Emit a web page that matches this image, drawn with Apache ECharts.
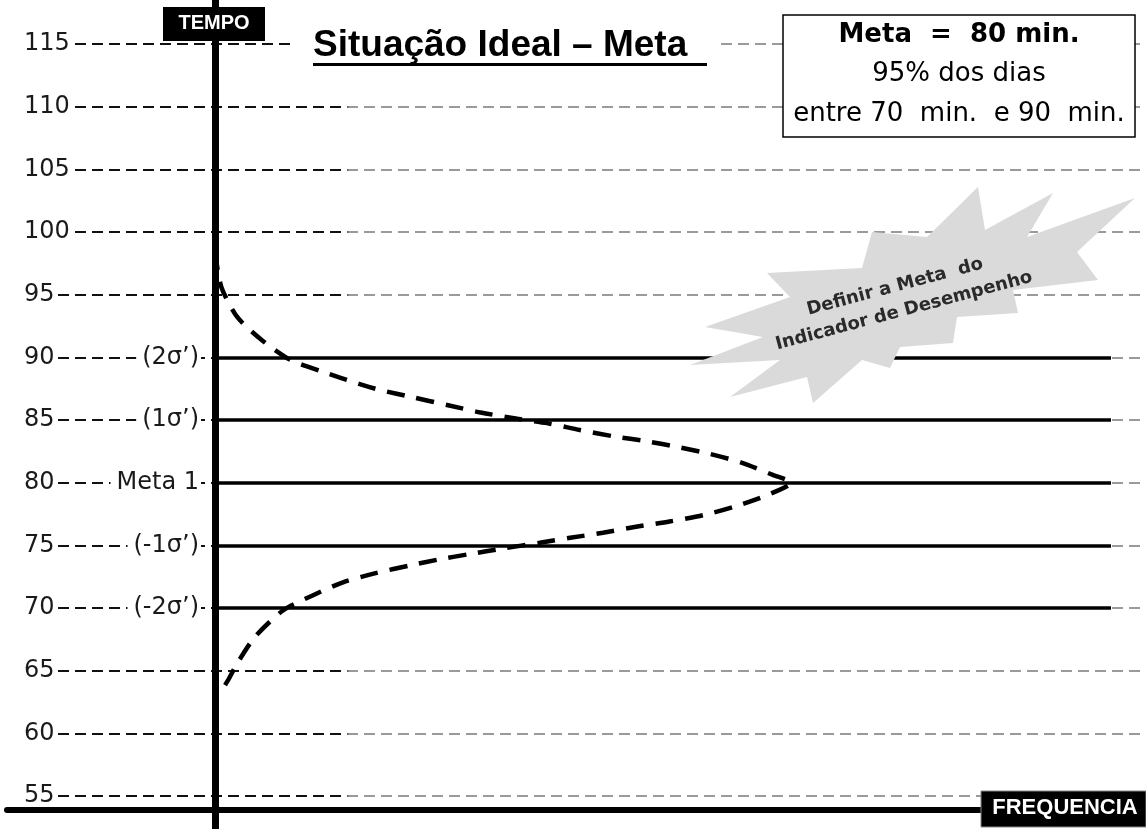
<!DOCTYPE html>
<html><head><meta charset="utf-8">
<script src="https://cdn.jsdelivr.net/npm/echarts@6/dist/echarts.min.js"></script>
<style>html,body{margin:0;padding:0;background:#fff}#c{width:1146px;height:829px}</style>
</head><body><div id="c"></div>
<script>
// ---- data ----
const tempoTicks = [55, 60, 65, 70, 75, 80, 85, 90, 95, 100, 105, 110, 115];
const sigmaLevels = [90, 85, 80, 75, 70];
const sigmaLabels = ["(2σ’)", "(1σ’)", "Meta 1", "(-1σ’)", "(-2σ’)"];
const levelLineEnd = 56;          // frequency where the sigma lines stop
const axisZero = 0;               // frequency origin (vertical TEMPO axis)
// bell curve (frequency, tempo)
const curveFreq  = [0, 0.4, 1.4, 2.9, 4.7, 6.6, 9.1, 10.3, 12.4, 14.5, 16.6, 18.9, 20.75, 22.8, 24.9, 27.0, 28.9, 30.9, 32.9, 34.9, 36,
                    34.5, 32.5, 30.5, 28.4, 26.4, 24.25, 22.2, 20.3, 18.0, 15.9, 13.9, 12.2, 10.1, 8.0, 6.1, 4.25, 2.5, 1.4, 0.8, 0.3];
const curveTempo = [98.4, 95.6, 93.2, 91.4, 89.8, 88.9, 87.85, 87.4, 86.8, 86.2, 85.6, 85.1, 84.75, 84.2, 83.7, 83.3, 82.85, 82.3, 81.6, 80.6, 80.0,
                    79.0, 78.1, 77.4, 76.9, 76.5, 76.0, 75.6, 75.2, 74.75, 74.3, 73.85, 73.4, 72.8, 72.05, 71.0, 69.8, 67.7, 65.6, 64.2, 63.2];
const titleText = "Situação Ideal – Meta";
const boxLines = ["Meta  =  80 min.", "95% dos dias", "entre 70  min.  e 90  min."];
const burstLines = ["Definir a Meta  do", "Indicador de Desempenho"];
const yName = "TEMPO";
const xName = "FREQUENCIA";

// ---- chart ----
const chart = echarts.init(document.getElementById('c'), null, {renderer: 'canvas'});
const gridGrad = new echarts.graphic.LinearGradient(0, 0, 1146, 0, [
  {offset: 0, color: '#111'}, {offset: 0.30, color: '#111'},
  {offset: 0.305, color: '#9a9a9a'}, {offset: 1, color: '#9a9a9a'}], true);

const levelMarks = sigmaLevels.map((v, i) => [
  {coord: [axisZero, v], name: sigmaLabels[i]},
  {coord: [levelLineEnd, v]}
]);

const burstPts = [[705,327],[790,297],[767,273],[862,268],[872,232],[927,237],[978,187],[985,230],
  [1053,193],[1027,237],[1135,198],[1077,252],[1098,280],[1013,290],[1018,313],[957,317],[953,343],
  [900,347],[890,368],[862,360],[813,403],[807,377],[730,397],[780,360],[690,365],[763,337]];

const option = {
  animation: false,
  backgroundColor: '#fff',
  grid: {left: 7, right: 0, top: -18.67, bottom: -29.67, containLabel: false, outerBoundsMode: 'none'},
  xAxis: {
    type: 'value', min: -13, max: 58.1875, position: 'bottom', offset: -48.67, z: 5,
    axisLine: {show: true, onZero: false, lineStyle: {color: '#000', width: 6}},
    axisTick: {show: false}, axisLabel: {show: false}, splitLine: {show: false}
  },
  yAxis: {
    type: 'value', min: 50, max: 120, interval: 5,
    axisLine: {show: false, onZero: false}, axisTick: {show: false},
    axisLabel: {
      inside: true, margin: 0,
      formatter: v => tempoTicks.includes(v) ? String(v) : '',
      fontFamily: 'DejaVu Sans', fontSize: 24, color: '#1a1a1a', lineHeight: 20,
      backgroundColor: '#fff', padding: [0, 3, 0, 17]
    },
    splitLine: {show: true, lineStyle: {color: gridGrad, width: 2, type: [11, 6]}}
  },
  series: [{
    type: 'line',
    data: curveFreq.map((f, i) => [f, curveTempo[i]]),
    smooth: 0.25, showSymbol: false, z: 3,
    lineStyle: {color: '#000', width: 4.5, type: [18, 12]},
    markLine: {
      silent: true, symbol: ['none', 'none'], animation: false,
      lineStyle: {color: '#000', width: 3.5, type: 'solid'},
      label: {
        show: true, position: 'start', formatter: '{b}', distance: 14,
        fontFamily: 'DejaVu Sans', fontSize: 24, color: '#1a1a1a', lineHeight: 22,
        backgroundColor: '#fff', padding: [0, 2, 0, 6]
      },
      data: levelMarks.concat([{xAxis: axisZero, label: {show: false}, lineStyle: {width: 7, color: '#000', type: 'solid'}}])
    }
  }],
  graphic: [
    // title
    {type: 'rect', z: 100, shape: {x: 290, y: 28, width: 428, height: 34}, style: {fill: '#fff'}},
    {type: 'text', z: 101, x: 313, y: 46, style: {text: titleText, font: 'bold 37px "Liberation Sans"', fill: '#000', align: 'left', verticalAlign: 'middle'}},
    {type: 'line', z: 101, shape: {x1: 313, y1: 64.5, x2: 707, y2: 64.5}, style: {stroke: '#000', lineWidth: 3}},
    // TEMPO label
    {type: 'rect', z: 100, shape: {x: 163, y: 7, width: 102, height: 34}, style: {fill: '#000'}},
    {type: 'text', z: 101, x: 214, y: 23, style: {text: yName, font: 'bold 20px "Liberation Sans"', fill: '#fff', align: 'center', verticalAlign: 'middle'}},
    // FREQUENCIA label
    {type: 'rect', z: 100, shape: {x: 981, y: 791, width: 165, height: 36}, style: {fill: '#000', stroke: '#888', lineWidth: 1}},
    {type: 'text', z: 101, x: 1065, y: 808, style: {text: xName, font: 'bold 22px "Liberation Sans"', fill: '#fff', align: 'center', verticalAlign: 'middle'}},
    // goal box
    {type: 'rect', z: 100, shape: {x: 783, y: 15, width: 352, height: 122}, style: {fill: '#fff', stroke: '#000', lineWidth: 1.5}},
    {type: 'text', z: 101, x: 959, y: 35, style: {text: boxLines[0], font: 'bold 26px "DejaVu Sans"', fill: '#000', align: 'center', verticalAlign: 'middle'}},
    {type: 'text', z: 101, x: 959, y: 74, style: {text: boxLines[1], font: '26px "DejaVu Sans"', fill: '#000', align: 'center', verticalAlign: 'middle'}},
    {type: 'text', z: 101, x: 959, y: 114, style: {text: boxLines[2], font: '26px "DejaVu Sans"', fill: '#000', align: 'center', verticalAlign: 'middle'}},
    // starburst
    {type: 'polygon', z: 100, shape: {points: burstPts}, style: {fill: '#dadada'}},
    {type: 'text', z: 101, x: 895, y: 287, rotation: 0.26, style: {text: burstLines[0], font: 'bold 18px "DejaVu Sans"', fill: '#2a2a2a', align: 'center', verticalAlign: 'middle'}},
    {type: 'text', z: 101, x: 904, y: 311, rotation: 0.26, style: {text: burstLines[1], font: 'bold 18px "DejaVu Sans"', fill: '#2a2a2a', align: 'center', verticalAlign: 'middle'}}
  ]
};
chart.setOption(option);
</script>
</body></html>
